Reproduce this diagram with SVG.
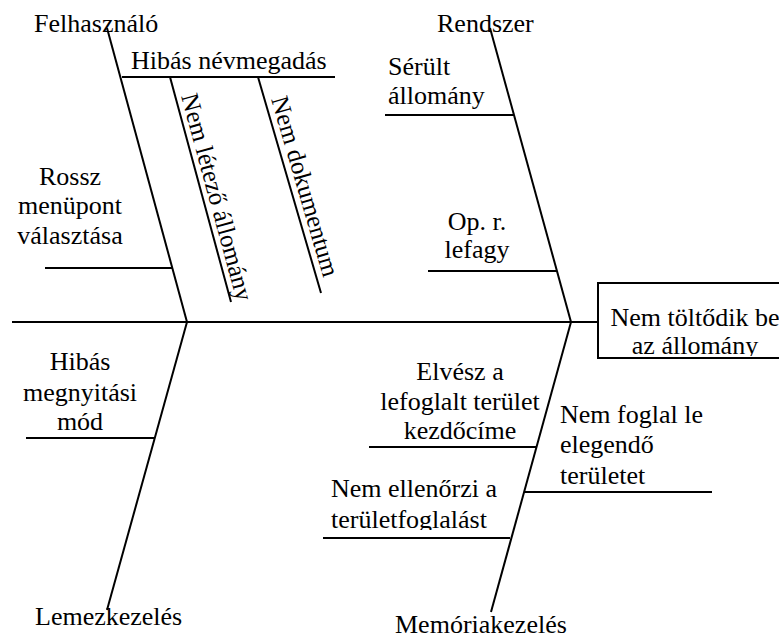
<svg xmlns="http://www.w3.org/2000/svg" width="779" height="639" viewBox="0 0 779 639" font-family="'Liberation Serif', 'DejaVu Serif', serif">
<style>
text{font-family:'Liberation Serif','DejaVu Serif',serif;font-size:26px;fill:#000}
.c{text-anchor:middle}
.r{font-size:25px}
line,.bx{stroke:#000;stroke-width:2;fill:none}
</style>
<defs>
<clipPath id="clipBox"><rect x="598" y="283" width="200" height="73"/></clipPath>
<clipPath id="clipElv"><rect x="300" y="350" width="300" height="91"/></clipPath>
<clipPath id="clipEll"><rect x="300" y="470" width="250" height="60"/></clipPath>
</defs>
<rect width="779" height="639" fill="#fff"/>
<g id="connectors">
<line x1="12" y1="322" x2="598" y2="322"/>
<line x1="107" y1="28" x2="187" y2="322"/>
<line x1="187" y1="322" x2="107" y2="610"/>
<line x1="490" y1="28" x2="571" y2="322"/>
<line x1="571" y1="322" x2="491" y2="612"/>
<line x1="122" y1="77" x2="335" y2="77"/>
<line x1="170" y1="77" x2="231" y2="302"/>
<line x1="258" y1="77" x2="321" y2="293"/>
<line x1="45" y1="268" x2="172" y2="268"/>
<line x1="26" y1="438" x2="155" y2="438"/>
<line x1="385" y1="115" x2="514" y2="115"/>
<line x1="428" y1="271" x2="557" y2="271"/>
<line x1="369" y1="447" x2="537" y2="447"/>
<line x1="524" y1="492" x2="712" y2="492"/>
<line x1="323" y1="538" x2="510" y2="538"/>
</g>
<g id="effect">
<rect class="bx" x="598" y="283" width="200" height="75"/>
<g clip-path="url(#clipBox)">
<text class="c" x="695" y="326">Nem töltődik be</text>
<text class="c" x="695" y="354">az állomány</text>
</g>
</g>
<g id="felhasznalo"><text x="34" y="32">Felhasználó</text></g>
<g id="hibas-nevmegadas"><text x="131" y="69">Hibás névmegadás</text></g>
<g id="nem-letezo"><text class="r" transform="translate(181,96) rotate(74.8)">Nem létező állomány</text></g>
<g id="nem-dokumentum"><text class="r" transform="translate(271,99) rotate(73.7)">Nem dokumentum</text></g>
<g id="rossz-menupont">
<text class="c" x="70" y="185">Rossz</text>
<text class="c" x="70" y="214">menüpont</text>
<text class="c" x="70" y="244">választása</text>
</g>
<g id="rendszer"><text x="437" y="32">Rendszer</text></g>
<g id="serult">
<text x="388" y="75">Sérült</text>
<text x="388" y="104">állomány</text>
</g>
<g id="opr">
<text class="c" x="477" y="230">Op. r.</text>
<text class="c" x="477" y="258">lefagy</text>
</g>
<g id="hibas-megnyitasi">
<text class="c" x="80" y="370">Hibás</text>
<text class="c" x="80" y="401">megnyitási</text>
<text class="c" x="80" y="430">mód</text>
</g>
<g id="lemezkezeles"><text x="35" y="625">Lemezkezelés</text></g>
<g id="elvesz" clip-path="url(#clipElv)">
<text class="c" x="460" y="380">Elvész a</text>
<text class="c" x="460" y="410">lefoglalt terület</text>
<text class="c" x="460" y="439">kezdőcíme</text>
</g>
<g id="nem-foglal">
<text x="560" y="423">Nem foglal le</text>
<text x="560" y="453">elegendő</text>
<text x="560" y="484">területet</text>
</g>
<g id="nem-ellenorzi" clip-path="url(#clipEll)">
<text x="331" y="497">Nem ellenőrzi a</text>
<text x="331" y="528">területfoglalást</text>
</g>
<g id="memoriakezeles"><text x="395" y="633">Memóriakezelés</text></g>
</svg>
